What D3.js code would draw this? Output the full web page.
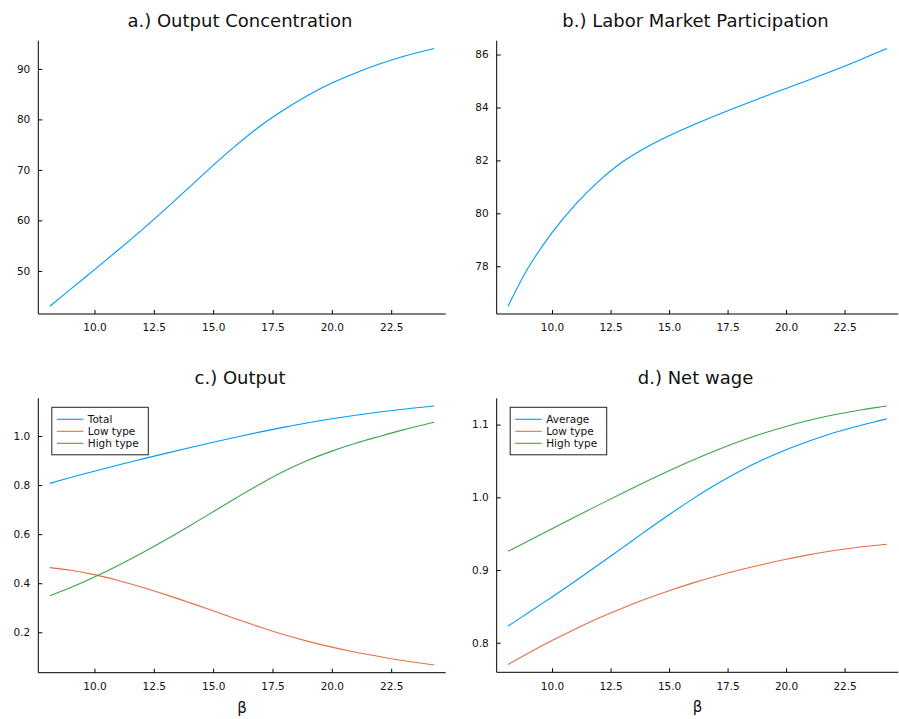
<!DOCTYPE html>
<html>
<head>
<meta charset="utf-8">
<script src="https://cdn.jsdelivr.net/npm/d3@7"></script>
<style>
  html, body { margin: 0; padding: 0; background: #fff; }
  svg { display: block; font-family: "DejaVu Sans", sans-serif; }
</style>
</head>
<body>
<svg id="chart" width="899" height="719"></svg>
<script>
// β grid shared by every panel
const beta = [8.12, 9, 10, 11, 12, 13, 14, 15, 16, 17, 18, 19, 20, 21, 22, 23, 24, 24.31];

// a.) Output concentration
const concentration = [43.0, 46.39, 50.24, 54.14, 58.14, 62.29, 66.59, 70.89, 74.99, 78.74, 81.95, 84.8, 87.2, 89.2, 90.95, 92.45, 93.7, 94.05];

// b.) Labor market participation
const participation = [76.49, 77.97, 79.27, 80.34, 81.22, 81.94, 82.48, 82.93, 83.33, 83.70, 84.05, 84.39, 84.72, 85.05, 85.39, 85.74, 86.11, 86.23];

// c.) Output
const outputTotal = [0.807, 0.8308, 0.8568, 0.8818, 0.9058, 0.9293, 0.9523, 0.9748, 0.9963, 1.0168, 1.0363, 1.0543, 1.0703, 1.0848, 1.0978, 1.1093, 1.1193, 1.1221];
const outputLow   = [0.4635, 0.453, 0.435, 0.4115, 0.384, 0.3535, 0.321, 0.2875, 0.2535, 0.2205, 0.19, 0.163, 0.1395, 0.119, 0.1015, 0.085, 0.071, 0.067];
const outputHigh  = [0.349, 0.3824, 0.4254, 0.4724, 0.5229, 0.5769, 0.6334, 0.6914, 0.7494, 0.8054, 0.8574, 0.9014, 0.9384, 0.9704, 0.9984, 1.025, 1.049, 1.056];

// d.) Net wage
const wageAverage = [0.823, 0.8415, 0.863, 0.885, 0.9075, 0.9305, 0.9535, 0.976, 0.9975, 1.0175, 1.0355, 1.0515, 1.0655, 1.0775, 1.0885, 1.0975, 1.1055, 1.108];
const wageLow     = [0.770, 0.786, 0.803, 0.819, 0.834, 0.8475, 0.860, 0.8715, 0.882, 0.8915, 0.900, 0.9077, 0.9148, 0.9212, 0.9265, 0.9310, 0.9345, 0.9355];
const wageHigh    = [0.9258, 0.9403, 0.9568, 0.9733, 0.9896, 1.0056, 1.0213, 1.0365, 1.051, 1.0645, 1.0768, 1.0878, 1.0975, 1.1059, 1.1131, 1.1191, 1.1241, 1.1255];

// Tick labels
const xTicks = [10.0, 12.5, 15.0, 17.5, 20.0, 22.5];
const yTicksA = [50, 60, 70, 80, 90];
const yTicksB = [78, 80, 82, 84, 86];
const yTicksC = [0.2, 0.4, 0.6, 0.8, 1.0];
const yTicksD = [0.8, 0.9, 1.0, 1.1];

const BLUE = "#009AFA", ORANGE = "#E36F47", GREEN = "#3EA44E";

const svg = d3.select("#chart");

// Pad an extent by 3% on each side
function widen(ext) {
  const pad = (ext[1] - ext[0]) * 0.03;
  return [ext[0] - pad, ext[1] + pad];
}

function panel(opts) {
  const { left, right, top, bottom, title, series, yTicks, yFmt, xlabel, legend } = opts;
  const g = svg.append("g");

  const x = d3.scaleLinear().domain(widen(d3.extent(beta))).range([left, right]);
  const allY = series.flatMap(s => s.values);
  const y = d3.scaleLinear().domain(widen(d3.extent(allY))).range([bottom, top]);

  // Axes with inward ticks
  const xAxis = d3.axisBottom(x).tickValues(xTicks).tickFormat(d3.format(".1f"))
    .tickSizeInner(-4).tickSizeOuter(0).tickPadding(10);
  const yAxis = d3.axisLeft(y).tickValues(yTicks).tickFormat(yFmt)
    .tickSizeInner(-4).tickSizeOuter(0).tickPadding(8);

  const gx = g.append("g").attr("transform", `translate(0,${bottom})`).call(xAxis);
  const gy = g.append("g").attr("transform", `translate(${left},0)`).call(yAxis);
  [gx, gy].forEach(a => {
    a.select(".domain").attr("stroke", "#000").attr("stroke-width", 1);
    a.selectAll(".tick line").attr("stroke", "#000").attr("stroke-width", 1);
    a.selectAll(".tick text").attr("fill", "#111").style("font-size", "10.5px")
      .style("font-family", "DejaVu Sans, sans-serif");
  });
  // spines span the whole plot box
  gx.select(".domain").attr("d", `M${left},0H${right}`);
  gy.select(".domain").attr("d", `M0,${bottom}V${top}`);

  // Lines
  const line = d3.line().x((d, i) => x(beta[i])).y(d => y(d)).curve(d3.curveCatmullRom.alpha(0.5));
  series.forEach(s => {
    g.append("path").datum(s.values).attr("d", line)
      .attr("fill", "none").attr("stroke", s.color).attr("stroke-width", 1.1);
  });

  // Title
  g.append("text").attr("x", (left + right) / 2 - 2).attr("y", top - 14)
    .attr("text-anchor", "middle").style("font-size", "18px").attr("fill", "#111")
    .text(title);

  if (xlabel) {
    g.append("text").attr("x", (left + right) / 2).attr("y", bottom + 40)
      .attr("text-anchor", "middle").style("font-size", "15px").attr("fill", "#111")
      .text(xlabel);
  }

  if (legend) {
    const lx = left + 13.5, ly = top + 9, lw = 96.5, lh = 47.5;
    const lg = g.append("g");
    lg.append("rect").attr("x", lx).attr("y", ly).attr("width", lw).attr("height", lh)
      .attr("fill", "#fff").attr("stroke", "#222").attr("stroke-width", 1);
    series.forEach((s, i) => {
      const yy = ly + 12 + i * 12;
      lg.append("line").attr("x1", lx + 5).attr("x2", lx + 31.5).attr("y1", yy).attr("y2", yy)
        .attr("stroke", s.color).attr("stroke-width", 1.1);
      lg.append("text").attr("x", lx + 36).attr("y", yy + 3.8)
        .style("font-size", "10.5px").attr("fill", "#111").text(s.name);
    });
  }
}

panel({
  left: 38.3, right: 445.7, top: 40.7, bottom: 314,
  title: "a.) Output Concentration",
  series: [{ name: "y1", values: concentration, color: BLUE }],
  yTicks: yTicksA, yFmt: d3.format("d")
});

panel({
  left: 496.7, right: 898.3, top: 40.7, bottom: 314,
  title: "b.) Labor Market Participation",
  series: [{ name: "y1", values: participation, color: BLUE }],
  yTicks: yTicksB, yFmt: d3.format("d")
});

panel({
  left: 38.3, right: 445.7, top: 398.3, bottom: 672.7,
  title: "c.) Output",
  series: [
    { name: "Total", values: outputTotal, color: BLUE },
    { name: "Low type", values: outputLow, color: ORANGE },
    { name: "High type", values: outputHigh, color: GREEN }
  ],
  yTicks: yTicksC, yFmt: d3.format(".1f"), xlabel: "β", legend: true
});

panel({
  left: 496.7, right: 898.3, top: 398.3, bottom: 672.3,
  title: "d.) Net wage",
  series: [
    { name: "Average", values: wageAverage, color: BLUE },
    { name: "Low type", values: wageLow, color: ORANGE },
    { name: "High type", values: wageHigh, color: GREEN }
  ],
  yTicks: yTicksD, yFmt: d3.format(".1f"), xlabel: "β", legend: true
});
</script>
</body>
</html>
